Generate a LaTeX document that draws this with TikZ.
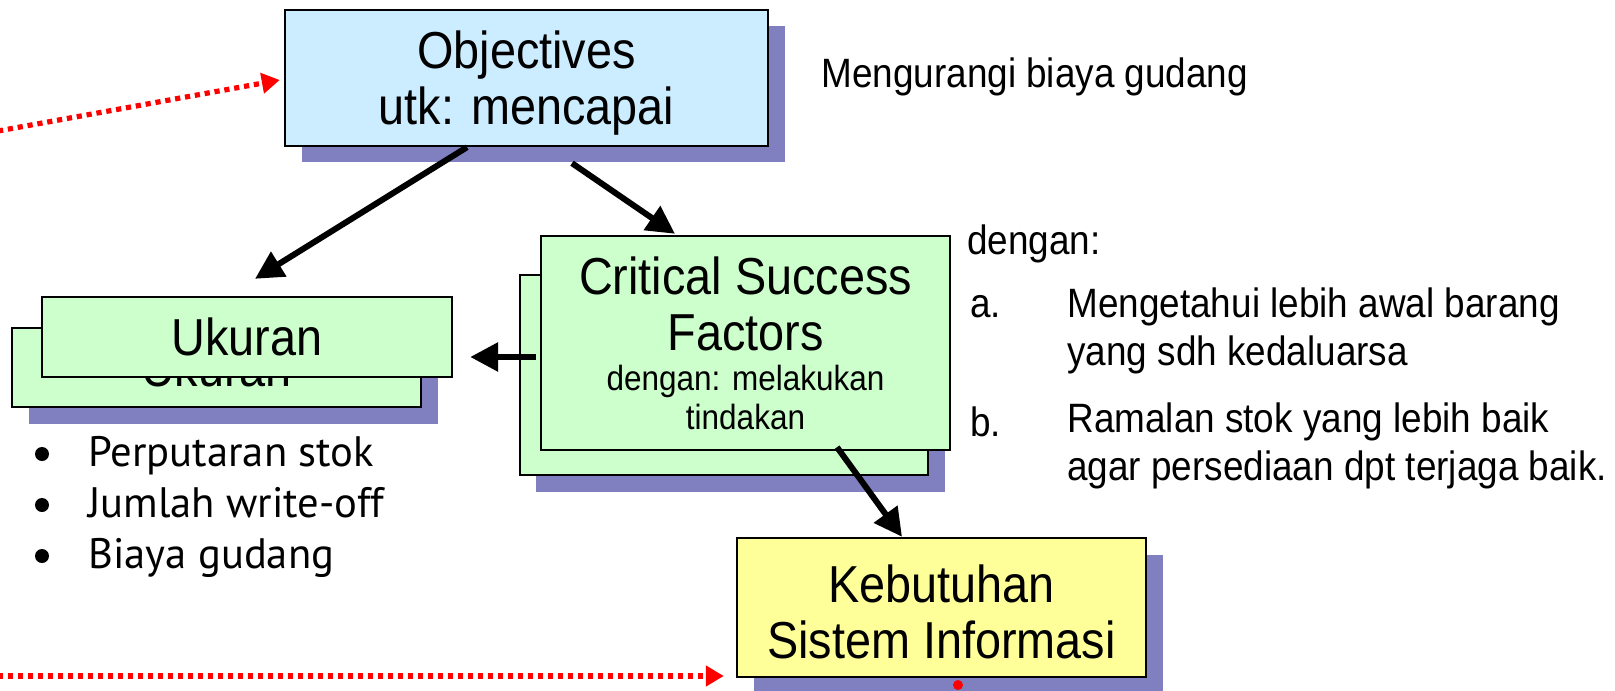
\documentclass[tikz,border=0pt]{standalone}
\usepackage{fontspec}
\setmainfont{Liberation Sans}[FakeStretch=0.9]
\newfontfamily\bulfont{PT Sans}
\usetikzlibrary{arrows.meta,calc}
\definecolor{shad}{RGB}{128,128,192}
\definecolor{objblue}{RGB}{204,236,255}
\definecolor{boxgreen}{RGB}{204,255,204}
\definecolor{boxyellow}{RGB}{255,255,153}
\begin{document}
\begin{tikzpicture}[x=0.5pt,y=-0.5pt,
  box/.style={draw=black,line width=1.2pt,inner sep=0pt,align=center},
  conn/.style={line width=3pt,-{Triangle[length=14pt,width=14pt]}},
  redconn/.style={red,line width=2.6pt,dash pattern=on 2.6pt off 2.4pt,-{Triangle[length=9pt,width=10pt]}},
  big/.style={font=\fontsize{26}{28}\selectfont},
  small/.style={font=\fontsize{20.5}{24}\selectfont},
  plain/.style={inner sep=0pt,anchor=west,align=left,small},
  bulmark/.style={circle,fill=black,draw=none,inner sep=0pt,minimum size=7pt}]
\fill[white] (0,0) rectangle (1615,690);
\useasboundingbox (0,0) rectangle (1615,690);
% shadows
\fill[shad] (302,26) rectangle (785,162);
\fill[shad] (29,344) rectangle (438,424);
\fill[shad] (536,291) rectangle (945,492);
\fill[shad] (754,555) rectangle (1163,700);
% boxes
\node[box,fill=objblue,minimum width=241.5pt,minimum height=68pt,big] (obj) at (526.5,78) {\rule{0pt}{24pt}Objectives\\utk: mencapai};
\node[box,fill=boxgreen,minimum width=204.5pt,minimum height=39.5pt,big] (ukb) at (216.5,367.5) {Ukuran};
\node[box,fill=boxgreen,minimum width=205pt,minimum height=40pt,big] (uk) at (247,337) {Ukuran};
\node[box,fill=boxgreen,minimum width=204pt,minimum height=100pt] (csfb) at (724,375) {};
\node[box,fill=boxgreen,minimum width=204.5pt,minimum height=107pt,big] (csf) at (745.5,343)
  {Critical Success\\Factors\\[-8pt]{\fontsize{17.5}{20}\selectfont dengan: melakukan}\\[-8.5pt]{\fontsize{17.5}{20}\selectfont tindakan}};
\node[box,fill=boxyellow,minimum width=204.5pt,minimum height=69.5pt,big] (keb) at (941.5,607.5) {\rule{0pt}{23pt}Kebutuhan\\Sistem Informasi};
% texts
\node[plain] (mb) at (821,77) {Mengurangi biaya gudang};
\node[plain] (dg) at (967,244) {dengan:};
\node[plain] (la) at (970,307) {a.};
\node[plain] (ta) at (1067,331) {Mengetahui lebih awal barang\\yang sdh kedaluarsa};
\node[plain] (lb) at (970,422) {b.};
\node[plain] (tb) at (1067,445.5) {Ramalan stok yang lebih baik\\agar persediaan dpt terjaga baik.};
\node[inner sep=0pt,anchor=west,align=left,font=\bulfont\fontsize{21.3}{25.5}\selectfont] (bl) at (88,507)
  {Perputaran stok\\Jumlah write-off\\Biaya gudang};
\node[bulmark] (b1) at (42,454) {};
\node[bulmark] (b2) at (42,505) {};
\node[bulmark] (b3) at (42,556) {};
% connectors
\draw[conn] ($(obj.south)+(-59.5,0)$) -- ($(uk.north)+(8,-17)$);
\draw[conn] ($(obj.south)+(45.5,16)$) -- ($(csf.north)+(-70.5,-1)$);
\draw[conn] ($(csf.west)+(-4,14)$) -- ($(uk.east)+(17,20)$);
\draw[conn] ($(csf.south)+(91.5,-4)$) -- ($(keb.north)+(-39.5,0)$);
\coordinate (rs1) at (-2,131);
\coordinate (rs2) at (-2,676);
\draw[redconn] (rs1) -- ($(obj.west)+(-4,2)$);
\draw[redconn] (rs2) -- ($(keb.west)+(-12,68.5)$);
\coordinate (rm) at (958,685);
\fill[red] (rm) circle (2.5pt);
\end{tikzpicture}
\end{document}
